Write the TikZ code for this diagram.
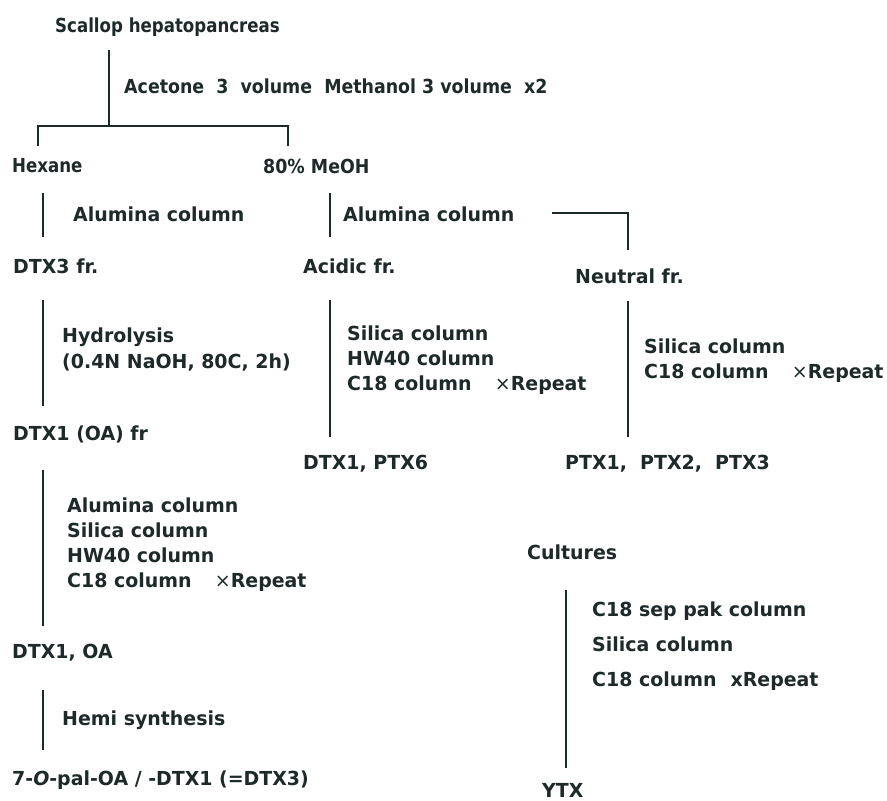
\documentclass[tikz,border=0pt]{standalone}
\usepackage{fontspec}
\setmainfont[FakeStretch=0.98]{DejaVu Sans}
\newfontfamily\plainfont[FakeStretch=0.86]{DejaVu Sans}
\newfontfamily\midfont[FakeStretch=0.9]{DejaVu Sans}
\definecolor{ink}{HTML}{1E2A2A}

\begin{document}
\begin{tikzpicture}[x=0.03cm,y=-0.03cm,
    lbl/.style={anchor=west,inner sep=0pt,align=left,text=ink,font=\bfseries\fontsize{16.5}{21.3}\selectfont},
    link/.style={draw=ink,line width=1.5pt}]
    \newcommand\rpt{{\mdseries ×}Repeat}
    \useasboundingbox[fill=white] (0,0) rectangle (887,800);
    % scallop branch
    \node[lbl] (scallop) at (55,27) {\plainfont\bfseries Scallop hepatopancreas};
    \node[lbl] (solvent) at (124,86) {\midfont\bfseries Acetone\ \ 3\ \ volume\ \ Methanol 3 volume\ \ x2};
    \node[lbl] (hexane) at (12,166) {\plainfont\bfseries Hexane};
    \node[lbl] (meoh) at (263,166) {\midfont\bfseries 80\% MeOH};
    \node[lbl] (alumL) at (73,214) {Alumina column};
    \node[lbl] (alumM) at (343,214) {Alumina column};
    \node[lbl] (dtx3) at (13,266) {DTX3 fr.};
    \node[lbl] (acidic) at (303,266) {Acidic fr.};
    \node[lbl] (neutral) at (575,276) {Neutral fr.};
    \node[lbl,font=\bfseries\fontsize{16.5}{23}\selectfont] (hydro) at (62,349.5) {Hydrolysis\\(0.4N NaOH, 80C, 2h)};
    \node[lbl] (dtx1fr) at (13,434) {DTX1 (OA) fr};
    \node[lbl] (colsA) at (347,360) {Silica column\\HW40 column\\C18 column\hspace{20pt}\rpt};
    \node[lbl] (dtxptx) at (303,464) {DTX1, PTX6};
    \node[lbl] (colsN) at (644,361) {Silica column\\C18 column\hspace{20pt}\rpt};
    \node[lbl] (ptx) at (565,464) {PTX1,\ \ PTX2,\ \ PTX3};
    \node[lbl] (colsB) at (67,544.5) {Alumina column\\Silica column\\HW40 column\\C18 column\hspace{20pt}\rpt};
    \node[lbl] (dtxoa) at (12,653) {DTX1, OA};
    \node[lbl] (hemi) at (62,720) {Hemi synthesis};
    \node[lbl] (palOA) at (12,780) {7-\textit{O}-pal-OA / -DTX1 (=DTX3)};
    % culture branch
    \node[lbl] (cult) at (527,552) {Cultures};
    \node[lbl,font=\bfseries\fontsize{16.5}{30}\selectfont] (colsC) at (592,646.5) {C18 sep pak column\\Silica column\\C18 column\hspace{12pt}xRepeat};
    \node[lbl] (ytx) at (542,790) {YTX};
    % line ends
    \def\ends{(109,50),(109,126),(38,146),(38,126),(288,126),(288,146),(43,193),(43,237),(330,193),(330,237),(552,213),(628,213),(628,250),(43,300),(43,406),(330,300),(330,437),(628,301),(628,437),(43,470),(43,626),(43,690),(43,750),(566,590),(566,768)}
    \foreach \pt [count=\i from 1] in \ends {\path \pt coordinate (e\i);}
    \draw[link] (e1)--(e2);
    \draw[link] (e3)--(e4)--(e5)--(e6);
    \draw[link] (e7)--(e8);
    \draw[link] (e9)--(e10);
    \draw[link] (e11)--(e12)--(e13);
    \draw[link] (e14)--(e15);
    \draw[link] (e16)--(e17);
    \draw[link] (e18)--(e19);
    \draw[link] (e20)--(e21);
    \draw[link] (e22)--(e23);
    \draw[link] (e24)--(e25);
\end{tikzpicture}
\end{document}
